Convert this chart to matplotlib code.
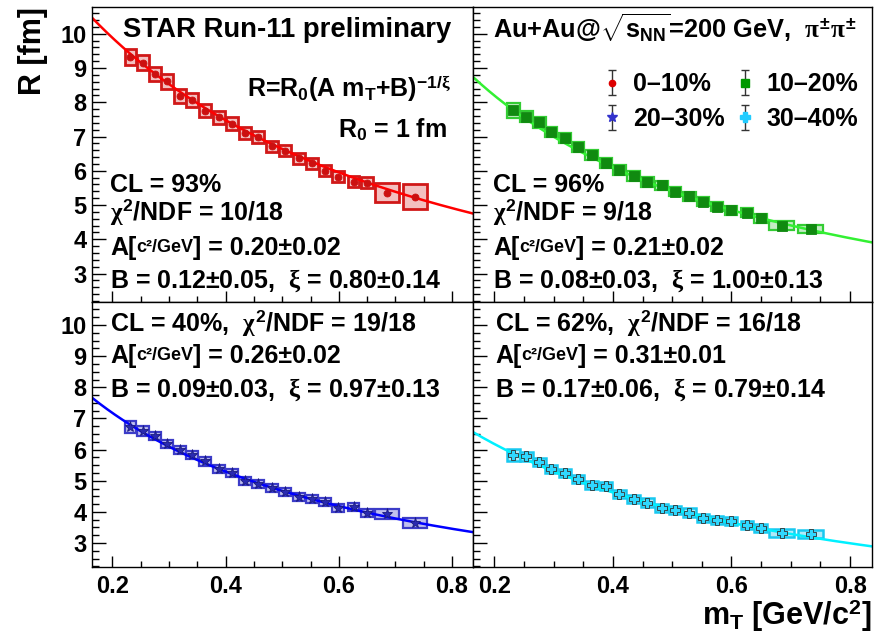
import matplotlib

matplotlib.use("Agg")
import matplotlib.pyplot as plt
import numpy as np
from matplotlib.ticker import MultipleLocator

plt.rcParams["font.family"] = ["Liberation Sans", "DejaVu Sans"]
plt.rcParams["font.weight"] = "bold"
plt.rcParams["mathtext.fontset"] = "custom"
plt.rcParams["mathtext.rm"] = "Liberation Sans:bold"
plt.rcParams["mathtext.bf"] = "Liberation Sans:bold"
plt.rcParams["mathtext.it"] = "Liberation Serif"
plt.rcParams["mathtext.sf"] = "Liberation Sans:bold"

# --- data ---------------------------------------------------------------
mt = [0.232, 0.254, 0.276, 0.296, 0.319, 0.341, 0.364, 0.388, 0.411, 0.435,
      0.458, 0.482, 0.505, 0.529, 0.552, 0.576, 0.599, 0.626, 0.649, 0.685,
      0.734]
box_w = [0.021, 0.021, 0.021, 0.021, 0.021, 0.021, 0.021, 0.021, 0.021, 0.021,
         0.021, 0.021, 0.021, 0.021, 0.021, 0.021, 0.021, 0.021, 0.021, 0.042,
         0.042]

r_0_10 = [9.32, 9.16, 8.82, 8.61, 8.19, 8.07, 7.75, 7.56, 7.37, 7.11, 6.98,
          6.71, 6.59, 6.36, 6.22, 6.00, 5.83, 5.68, 5.65, 5.36, 5.24]
r_10_20 = [7.76, 7.58, 7.42, 7.14, 6.95, 6.70, 6.46, 6.22, 6.02, 5.85, 5.68,
           5.58, 5.39, 5.26, 5.10, 4.95, 4.85, 4.77, 4.61, 4.40, 4.30]
r_20_30 = [6.72, 6.60, 6.44, 6.18, 5.99, 5.83, 5.62, 5.38, 5.25, 5.00, 4.89,
           4.77, 4.63, 4.47, 4.42, 4.31, 4.12, 4.16, 3.96, 3.93, 3.64]
r_30_40 = [5.83, 5.78, 5.59, 5.37, 5.25, 5.05, 4.87, 4.82, 4.58, 4.41, 4.30,
           4.12, 4.07, 3.98, 3.80, 3.75, 3.70, 3.59, 3.48, 3.32, 3.29]

# systematic half-heights (boxes)
sys_0_10 = [0.23, 0.22, 0.21, 0.21, 0.20, 0.20, 0.19, 0.19, 0.19, 0.18, 0.18,
            0.17, 0.17, 0.17, 0.16, 0.16, 0.16, 0.16, 0.16, 0.28, 0.36]
sys_10_20 = [0.22, 0.17, 0.16, 0.15, 0.15, 0.15, 0.14, 0.14, 0.14, 0.14, 0.14,
             0.13, 0.13, 0.13, 0.13, 0.13, 0.13, 0.13, 0.13, 0.12, 0.12]
sys_20_30 = [0.19, 0.15, 0.14, 0.14, 0.14, 0.14, 0.14, 0.13, 0.13, 0.13, 0.13,
             0.13, 0.13, 0.13, 0.13, 0.13, 0.13, 0.13, 0.13, 0.15, 0.16]
sys_30_40 = [0.19, 0.14, 0.13, 0.13, 0.13, 0.13, 0.13, 0.13, 0.13, 0.13, 0.13,
             0.13, 0.13, 0.13, 0.13, 0.13, 0.13, 0.13, 0.12, 0.12, 0.12]

# fit curves R = (A mT + B)^(-1/xi), parameters matched to the drawn lines
fit_A = [0.20, 0.21, 0.254, 0.306]
fit_B = [0.12, 0.08, 0.097, 0.176]
fit_xi = [0.80, 1.00, 0.97, 0.79]

cent_labels = ["0\u201310%", "10\u201320%", "20\u201330%", "30\u201340%"]
fit_cl = ["93%", "96%", "40%", "62%"]
fit_chi2 = ["10/18", "9/18", "19/18", "16/18"]
fit_a_txt = ["0.20\u00b10.02", "0.21\u00b10.02", "0.26\u00b10.02", "0.31\u00b10.01"]
fit_b_txt = ["0.12\u00b10.05", "0.08\u00b10.03", "0.09\u00b10.03", "0.17\u00b10.06"]
fit_xi_txt = ["0.80\u00b10.14", "1.00\u00b10.13", "0.97\u00b10.13", "0.79\u00b10.14"]

series = [r_0_10, r_10_20, r_20_30, r_30_40]
systs = [sys_0_10, sys_10_20, sys_20_30, sys_30_40]

styles = [
    dict(line="#ff0000", face="#f3c0c0", edge="#d01818", blw=2.0,
         marker="o", mfc="#cc1010", mec="#cc1010", ms=5, lmfc="#dd0000"),
    dict(line="#33f033", face="#c4ecc4", edge="#33cc33", blw=1.6,
         marker="s", mfc="#108a10", mec="#108a10", ms=6.5, lmfc="#009900"),
    dict(line="#0000ff", face="#c0c0ee", edge="#3c3cc8", blw=1.6,
         marker="*", mfc="#2a2ab0", mec="#1a1a80", ms=8, lmfc="#3333cc"),
    dict(line="#00f0ff", face="#b0eaf8", edge="#18c8f0", blw=1.8,
         marker="P", mfc="#30d8ff", mec="#303030", ms=7, lmfc="#22ccff"),
]

FS = 18
CHI = r"$\mathit{\chi}^{2}$"
XI = r"$\mathit{\xi}$"

fig = plt.figure(figsize=(8.77, 6.35), dpi=100)
W, H = 877, 635
cols = [(92, 473), (473, 872)]
rows = [(7, 302), (302, 567)]
ylims = [(2.17, 10.78), (2.23, 10.74)]
xlim = (0.164, 0.837)

axes = {}
for r, (ytop, ybot) in enumerate(rows):
    for c, (xl, xr) in enumerate(cols):
        ax = fig.add_axes([xl / W, 1 - ybot / H, (xr - xl) / W, (ybot - ytop) / H])
        axes[(r, c)] = ax
        ax.set_xlim(*xlim)
        ax.set_ylim(*ylims[r])
        ax.xaxis.set_major_locator(MultipleLocator(0.2))
        ax.xaxis.set_minor_locator(MultipleLocator(0.05))
        ax.yaxis.set_major_locator(MultipleLocator(1))
        ax.yaxis.set_minor_locator(MultipleLocator(0.2 if r == 0 else 0.25))
        ax.tick_params(which="both", direction="in", top=False, right=False,
                       width=1.0, labelsize=17)
        ax.xaxis.set_tick_params(which="major", length=8, pad=6)
        ax.xaxis.set_tick_params(which="minor", length=4)
        ax.yaxis.set_tick_params(which="major", length=10, pad=4)
        ax.yaxis.set_tick_params(which="minor", length=5)
        for s in ax.spines.values():
            s.set_linewidth(1.0)
        if r == 0:
            ax.tick_params(labelbottom=False)
        if c == 1:
            ax.tick_params(labelleft=False)

xfit = np.linspace(xlim[0], xlim[1], 200)
for i, ax in enumerate([axes[(0, 0)], axes[(0, 1)], axes[(1, 0)], axes[(1, 1)]]):
    st = styles[i]
    y = np.array(series[i])
    e = np.array(systs[i])
    ax.bar(mt, 2 * e, width=box_w, bottom=y - e, color=st["face"],
           edgecolor=st["edge"], linewidth=st["blw"], zorder=1)
    rfit = (fit_A[i] * xfit + fit_B[i]) ** (-1.0 / fit_xi[i])
    ax.plot(xfit, rfit, color=st["line"], lw=1.8, zorder=2)
    ax.plot(mt, y, linestyle="none", marker=st["marker"], ms=st["ms"],
            mfc=st["mfc"], mec=st["mec"], mew=0.6, zorder=3)


def a_line(ax, x, y, value):
    t1 = ax.text(x, y, "A[", transform=ax.transAxes, fontsize=FS, va="baseline")
    t2 = ax.annotate("c\u00b2/GeV", xy=(1, 0), xycoords=t1, fontsize=FS * 0.72,
                     va="bottom", xytext=(0, 3), textcoords="offset points")
    ax.annotate("] = " + value, xy=(1, 0), xycoords=t2, fontsize=FS,
                va="bottom", xytext=(0, -3), textcoords="offset points")


# top row: four-line fit text
for i, (ax, x0) in enumerate([(axes[(0, 0)], 0.047), (axes[(0, 1)], 0.050)]):
    ax.text(x0, 0.373, f"CL = {fit_cl[i]}", transform=ax.transAxes,
            fontsize=FS, va="baseline")
    ax.text(x0, 0.278, CHI + "/NDF = " + fit_chi2[i], transform=ax.transAxes,
            fontsize=FS, va="baseline")
    a_line(ax, x0, 0.159, fit_a_txt[i])
    ax.text(x0, 0.047, f"B = {fit_b_txt[i]},  " + XI + f" = {fit_xi_txt[i]}",
            transform=ax.transAxes, fontsize=FS, va="baseline")

# bottom row: three-line fit text
for j, (ax, x0) in enumerate([(axes[(1, 0)], 0.047), (axes[(1, 1)], 0.055)]):
    i = j + 2
    ax.text(x0, 0.891, f"CL = {fit_cl[i]},  " + CHI + "/NDF = " + fit_chi2[i],
            transform=ax.transAxes, fontsize=FS, va="baseline")
    a_line(ax, x0, 0.770, fit_a_txt[i])
    ax.text(x0, 0.642, f"B = {fit_b_txt[i]},  " + XI + f" = {fit_xi_txt[i]}",
            transform=ax.transAxes, fontsize=FS, va="baseline")

ax = axes[(0, 0)]
ax.text(0.081, 0.922, "STAR Run-11 preliminary", transform=ax.transAxes,
        fontsize=19.8, va="center")
ax.text(0.407, 0.695,
        r"R=R$_\mathrm{0}$(A m$_\mathrm{T}$+B)$^{\mathrm{-1/}\mathit{\xi}}$",
        transform=ax.transAxes, fontsize=FS, va="baseline")
ax.text(0.646, 0.559, r"R$_\mathrm{0}$ = 1 fm", transform=ax.transAxes,
        fontsize=FS, va="baseline")

ax = axes[(0, 1)]
ax.text(0.050, 0.895,
        r"Au+Au@$\sqrt{\mathrm{s}_\mathrm{NN}}$=200 GeV,  "
        r"$\mathit{\pi}^{\pm}\mathit{\pi}^{\pm}$",
        transform=ax.transAxes, fontsize=18.3, va="baseline")

handles = []
for i, st in enumerate(styles):
    h = ax.errorbar([np.nan], [np.nan], yerr=[1.0], fmt=st["marker"],
                    mfc=st["lmfc"], mec=st["lmfc"], ms=st["ms"] - 0.5,
                    ecolor="#333333", elinewidth=1.0, capsize=3,
                    label=cent_labels[i])
    handles.append(h)
# ncol=2 fills by column, so order as 0-10, 20-30, 10-20, 30-40
ax.legend(handles=[handles[0], handles[2], handles[1], handles[3]],
          loc="upper left", bbox_to_anchor=(0.32, 0.778),
          ncol=2, frameon=False, fontsize=18, handlelength=0.9,
          handletextpad=0.4, columnspacing=0.35, labelspacing=0.42,
          borderpad=0, borderaxespad=0)

fig.text(0.0376, 1 - 7 / H, "R [fm]", rotation=90, ha="center", va="top",
         fontsize=22)
fig.text(872 / W, (H - 625) / H, r"m$_\mathrm{T}$ [GeV/c$^\mathrm{2}$]",
         ha="right", va="baseline", fontsize=22)

fig.savefig("out.png", dpi=100)
